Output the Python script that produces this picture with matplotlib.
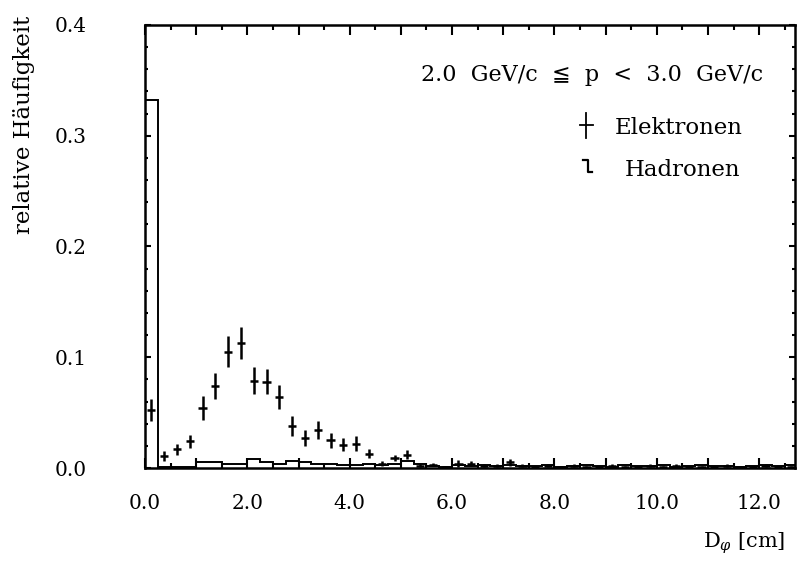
import matplotlib
matplotlib.use('Agg')
from matplotlib import pyplot as plt
from matplotlib.ticker import MultipleLocator, FuncFormatter
import numpy as np

plt.rcParams['font.family'] = ['DejaVu Serif', 'DejaVu Sans']
plt.rcParams['mathtext.fontset'] = 'dejavuserif'

# Elektronen: bin centres (0.25 cm bins), relative frequency, error
e_x = [0.125, 0.375, 0.625, 0.875, 1.125, 1.375, 1.625, 1.875, 2.125, 2.375,
       2.625, 2.875, 3.125, 3.375, 3.625, 3.875, 4.125, 4.375, 4.625, 4.875,
       5.125, 5.375, 5.625, 5.875, 6.125, 6.375, 6.625, 6.875, 7.125, 7.375,
       7.625, 7.875, 8.125, 8.375, 8.625, 8.875, 9.125, 9.375, 9.625, 9.875,
       10.125, 10.375, 10.625, 10.875, 11.125, 11.375, 11.625, 11.875, 12.125,
       12.375, 12.625]
e_y = [0.052, 0.011, 0.017, 0.024, 0.054, 0.074, 0.105, 0.113, 0.079, 0.078,
       0.064, 0.038, 0.027, 0.034, 0.025, 0.021, 0.022, 0.013, 0.004, 0.009,
       0.012, 0.002, 0.003, 0.001, 0.004, 0.004, 0.002, 0.002, 0.005, 0.002,
       0.001, 0.002, 0.001, 0.002, 0.001, 0.001, 0.002, 0.001, 0.001, 0.002,
       0.001, 0.002, 0.001, 0.001, 0.001, 0.002, 0.001, 0.001, 0.002,
       0.001, 0.001]
e_err = [0.010, 0.0045, 0.005, 0.006, 0.011, 0.012, 0.014, 0.0145, 0.012, 0.011,
         0.011, 0.009, 0.007, 0.008, 0.007, 0.006, 0.007, 0.004, 0.002, 0.003,
         0.004, 0.0015, 0.0015, 0.001, 0.003, 0.002, 0.0015, 0.0015, 0.003, 0.0015,
         0.001, 0.0015, 0.001, 0.0015, 0.001, 0.001, 0.0015, 0.001, 0.001, 0.0015,
         0.001, 0.0015, 0.001, 0.001, 0.001, 0.0015, 0.001, 0.001, 0.0015,
         0.001, 0.001]

# Hadronen: histogram bin edges (0 .. 12.75 cm) and contents
h_edges = np.arange(0, 12.76, 0.25)
h_y = [0.332, 0.001, 0.001, 0.001, 0.005, 0.005, 0.004, 0.004, 0.008, 0.005,
       0.004, 0.006, 0.005, 0.004, 0.004, 0.003, 0.003, 0.004, 0.003, 0.004,
       0.006, 0.004, 0.002, 0.001, 0.003, 0.002, 0.003, 0.002, 0.003, 0.002,
       0.002, 0.003, 0.001, 0.002, 0.003, 0.002, 0.001, 0.003, 0.002, 0.002,
       0.003, 0.001, 0.002, 0.003, 0.002, 0.002, 0.001, 0.002, 0.003, 0.002,
       0.003]

fig = plt.figure(figsize=(8.03, 5.76), dpi=100)
ax = fig.add_axes([145/803, 1 - 468/576, 650/803, 443/576])

ax.stairs(h_y, h_edges, color='black', lw=1.4)
ax.errorbar(e_x, e_y, yerr=e_err, xerr=0.08, fmt='none', ecolor='black',
            elinewidth=1.8, capsize=0)

ax.set_xlim(0, 12.7)
ax.set_ylim(0, 0.4)

ax.xaxis.set_major_locator(MultipleLocator(1))
ax.xaxis.set_minor_locator(MultipleLocator(0.5))
ax.xaxis.set_major_formatter(FuncFormatter(
    lambda v, p: '%.1f' % v if int(round(v)) % 2 == 0 else ''))
ax.yaxis.set_major_locator(MultipleLocator(0.1))
ax.yaxis.set_minor_locator(MultipleLocator(0.02))
ax.yaxis.set_major_formatter(FuncFormatter(lambda v, p: '%.1f' % v))

ax.tick_params(which='both', direction='in', top=True, right=True, width=1.5,
               labelsize=14.5)
ax.tick_params(axis='x', which='major', length=7, pad=19)
ax.tick_params(axis='x', which='minor', length=3.5)
ax.tick_params(axis='y', which='major', length=4, pad=42)
ax.tick_params(axis='y', which='minor', length=2.5)
for s in ax.spines.values():
    s.set_linewidth(1.8)

ax.text(0.951, 0.887, '2.0  GeV/c  \u2266  p  <  3.0  GeV/c', transform=ax.transAxes,
        ha='right', va='center', fontsize=16)
ax.text(0.723, 0.7675, 'Elektronen', transform=ax.transAxes,
        ha='left', va='center', fontsize=16.5)
ax.text(0.738, 0.673, 'Hadronen', transform=ax.transAxes,
        ha='left', va='center', fontsize=16.5)
# legend symbols
ax.plot([0.679, 0.679], [0.744, 0.801], transform=ax.transAxes, color='black', lw=1.3)
ax.plot([0.669, 0.689], [0.774, 0.774], transform=ax.transAxes, color='black', lw=1.3)
ax.plot([0.674, 0.681, 0.681, 0.688], [0.695, 0.695, 0.668, 0.668],
        transform=ax.transAxes, color='black', lw=1.6)

fig.text(24/803, 1 - 125/576, 'relative H\u00e4ufigkeit', rotation=90,
         ha='center', va='center', fontsize=16.5)
fig.text(785/803, 1 - 543/576, r'D$_{\varphi}$ [cm]', ha='right', va='center',
         fontsize=15)

fig.savefig('out.png', dpi=100)
